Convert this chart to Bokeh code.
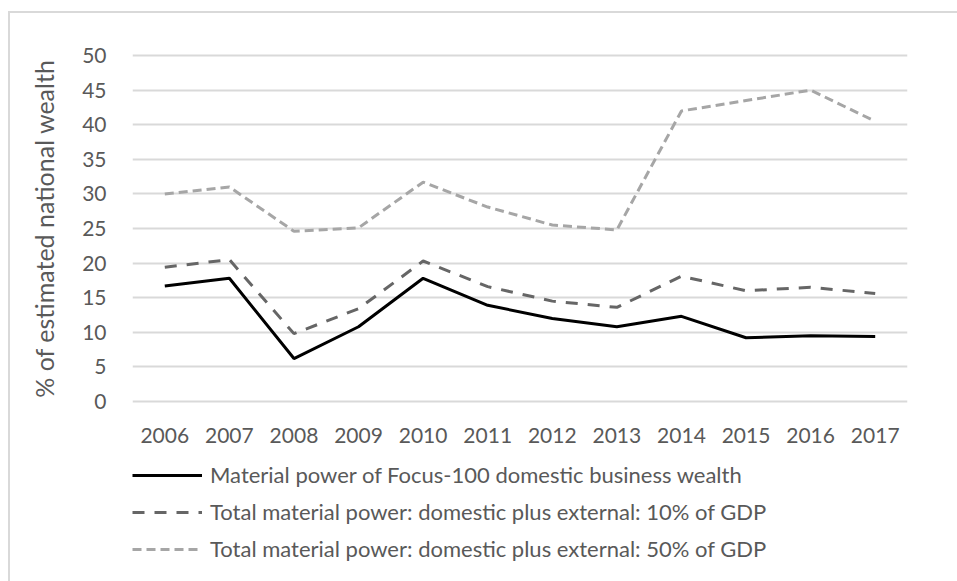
from bokeh.plotting import figure
from bokeh.models import FactorRange, Range1d, Legend, LegendItem
from bokeh.layouts import column
from bokeh.embed import file_html
from bokeh.resources import INLINE

years = ["2006", "2007", "2008", "2009", "2010", "2011", "2012", "2013", "2014", "2015", "2016", "2017"]
focus100 = [16.7, 17.8, 6.2, 10.8, 17.8, 13.9, 12.0, 10.8, 12.3, 9.2, 9.5, 9.4]
total_10 = [19.4, 20.5, 9.8, 13.4, 20.3, 16.6, 14.5, 13.6, 18.1, 16.0, 16.5, 15.6]
total_50 = [30.0, 31.0, 24.6, 25.1, 31.7, 28.1, 25.5, 24.8, 42.0, 43.5, 45.0, 40.5]
y_ticks = [0, 5, 10, 15, 20, 25, 30, 35, 40, 45, 50]
labels = [
    "Material power of Focus-100 domestic business wealth",
    "Total material power: domestic plus external: 10% of GDP",
    "Total material power: domestic plus external: 50% of GDP",
]

FONT = "Lato"
TXT = "#595959"
STYLES = [
    dict(line_color="black", line_width=3),
    dict(line_color="#666666", line_width=3, line_dash="12 10"),
    dict(line_color="#a6a6a6", line_width=3, line_dash="9 5"),
]
SERIES = [focus100, total_10, total_50]

# ---- main chart ----
p = figure(
    width=947, height=440,
    x_range=FactorRange(*years, range_padding=0),
    y_range=Range1d(-0.3, 50.3),
    output_backend="svg", toolbar_location=None,
    min_border_left=122, min_border_right=50, min_border_top=40, min_border_bottom=50,
)
p.outline_line_color = None
p.background_fill_color = "white"
p.border_fill_color = "white"

p.xaxis.axis_line_color = None
p.yaxis.axis_line_color = None
p.xaxis.major_tick_line_color = None
p.yaxis.major_tick_line_color = None
p.xaxis.minor_tick_line_color = None
p.yaxis.minor_tick_line_color = None
p.yaxis.ticker = y_ticks
for ax in (p.xaxis, p.yaxis):
    ax.major_label_text_font = FONT
    ax.major_label_text_font_size = "21px"
    ax.major_label_text_color = TXT
p.xaxis.major_label_standoff = 18
p.yaxis.major_label_standoff = 20
p.yaxis.axis_label = "% of estimated national wealth"
p.yaxis.axis_label_text_font = FONT
p.yaxis.axis_label_text_font_size = "25px"
p.yaxis.axis_label_text_font_style = "normal"
p.yaxis.axis_label_text_color = TXT
p.yaxis.axis_label_standoff = 20

p.xgrid.grid_line_color = None
p.ygrid.grid_line_color = "#d9d9d9"
p.ygrid.grid_line_width = 2

for vals, st in zip(SERIES, STYLES):
    p.line(years, vals, **st)

# ---- legend strip (same series, plotted out of view; only the legend shows) ----
q = figure(
    width=947, height=128,
    x_range=p.x_range, y_range=Range1d(1000, 1001),
    x_axis_type=None, y_axis_type=None,
    output_backend="svg", toolbar_location=None,
    min_border=0,
)
q.outline_line_color = None
q.background_fill_color = "white"
q.border_fill_color = "white"
q.xgrid.grid_line_color = None
q.ygrid.grid_line_color = None
proxies = [q.line(years, vals, **st) for vals, st in zip(SERIES, STYLES)]

legend = Legend(
    items=[LegendItem(label=lab, renderers=[r]) for lab, r in zip(labels, proxies)],
    location=(0, 19),
    orientation="vertical",
    glyph_width=70, glyph_height=24, label_height=24,
    label_standoff=8, spacing=10, padding=0, margin=0,
    border_line_color=None, background_fill_alpha=0,
    label_text_font=FONT, label_text_font_size="22px", label_text_color=TXT,
)
q.add_layout(legend, "center")

layout = column(p, q, spacing=0)
layout.styles = {
    "margin-left": "8px", "margin-top": "11px",
    "border-left": "2px solid #d9d9d9", "border-top": "2px solid #d9d9d9",
}

open("out.html", "w").write(file_html(layout, INLINE))
